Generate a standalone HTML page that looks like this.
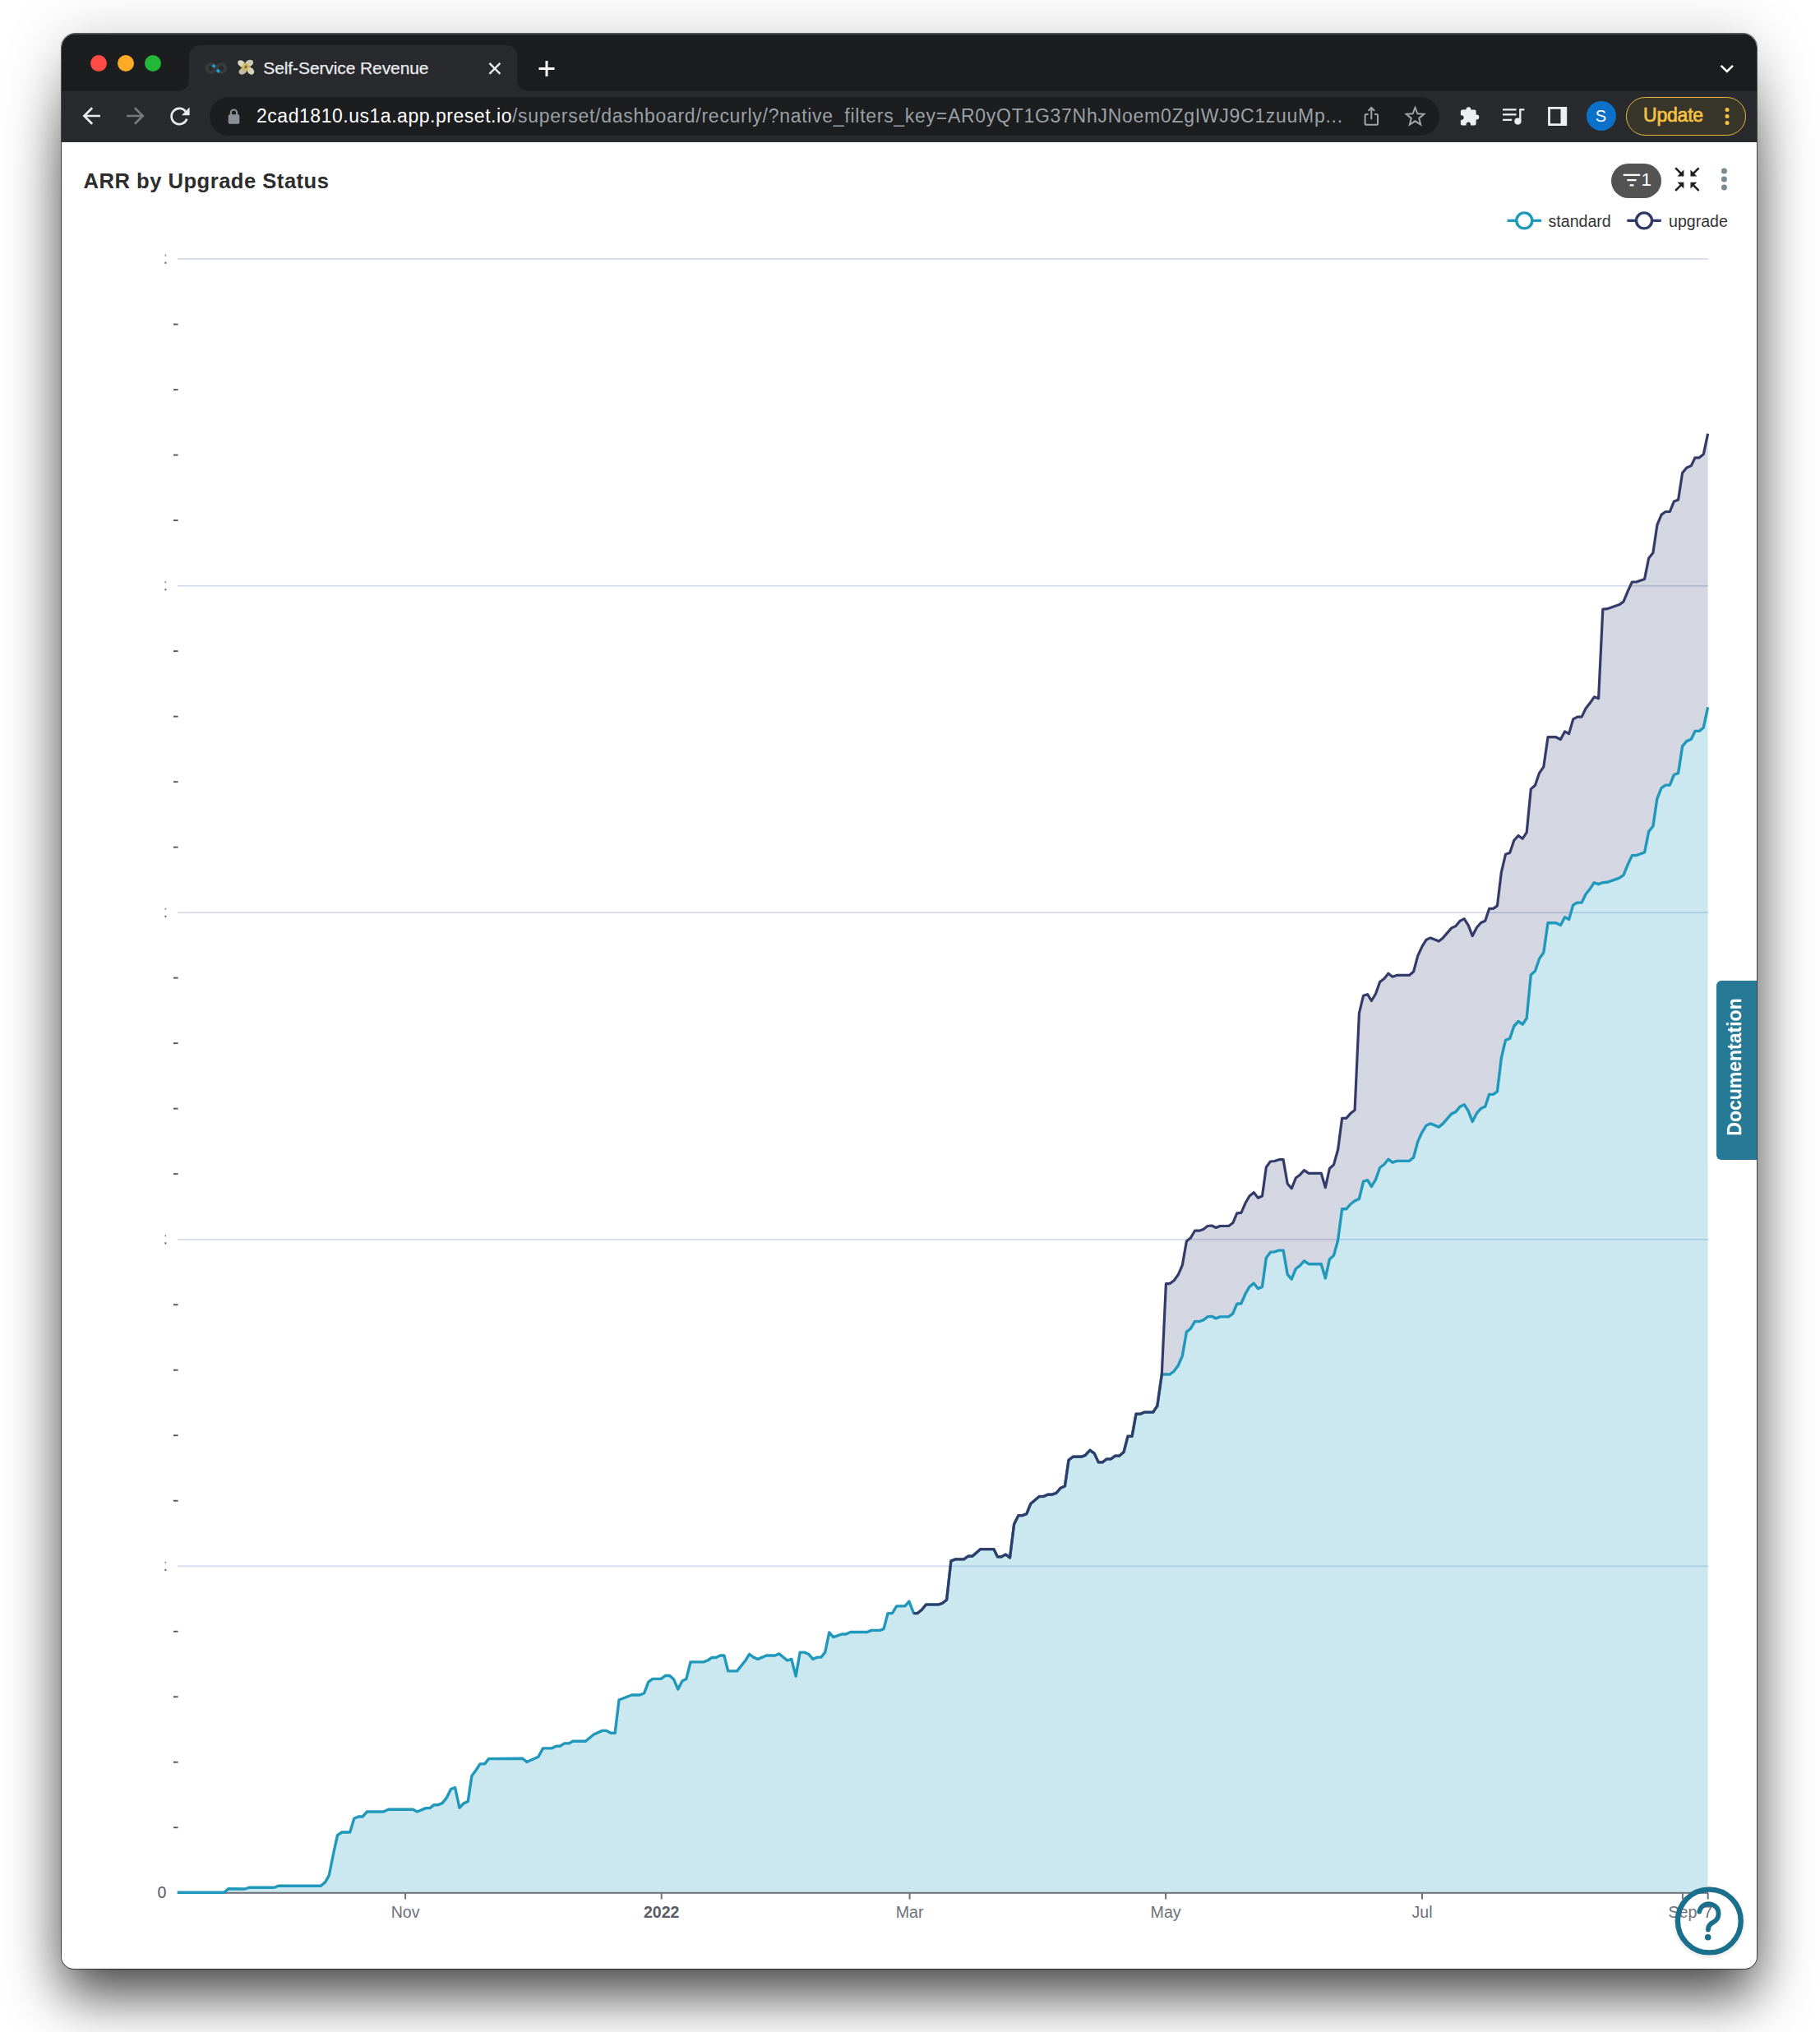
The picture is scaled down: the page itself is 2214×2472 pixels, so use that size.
<!DOCTYPE html>
<html lang="en"><head><meta charset="utf-8"><title>Self-Service Revenue</title>
<style>
*{box-sizing:border-box;margin:0;padding:0}
html,body{width:2214px;height:2472px;background:#fff;overflow:hidden;font-family:"Liberation Sans",Arial,sans-serif}
.win{position:absolute;left:75px;top:41px;width:2062px;height:2354px;border-radius:17px 17px 15px 15px;background:#fff;overflow:hidden;}
.shadow{position:absolute;left:75px;top:41px;width:2062px;height:2354px;border-radius:17px 17px 15px 15px;
 box-shadow:0 0 0 1px rgba(0,0,0,.62);}
.pg{position:absolute;left:-75px;top:-41px;width:2214px;height:2472px}
.abs{position:absolute}
.tabstrip{left:75px;top:41px;width:2062px;height:70px;background:#1c1d1f;box-shadow:inset 0 1px 0 #4a4c50}
.toolbar{left:75px;top:111px;width:2062px;height:61.5px;background:#292a2d}
.tab{left:229.5px;top:55px;width:399.5px;height:56px;background:#292a2d;border-radius:13px 13px 0 0}
.tab:before,.tab:after{content:"";position:absolute;bottom:0;width:13px;height:13px;background:radial-gradient(circle at 0 0,rgba(0,0,0,0) 12.5px,#292a2d 13px)}
.tab:before{left:-13px}
.tab:after{right:-13px;background:radial-gradient(circle at 100% 0,rgba(0,0,0,0) 12.5px,#292a2d 13px)}
.tl{width:20px;height:20px;border-radius:50%;top:67.3px}
.tabtitle{left:320.3px;top:68.8px;font-size:21px;line-height:28px;color:#e8eaed;white-space:nowrap;letter-spacing:-.1px;-webkit-text-stroke:.25px #e8eaed}
.omni{left:254.5px;top:118px;width:1496px;height:46.5px;border-radius:23.25px;background:#1c1d1f}
.url{left:312px;top:126px;font-size:23px;line-height:30px;color:#fff;white-space:nowrap;letter-spacing:.53px}
.url span{color:#9aa0a6;letter-spacing:.72px}
.avatar{left:1929.5px;top:123px;width:36px;height:36px;border-radius:50%;background:#0b71c9;color:#fff;font-size:20px;line-height:36px;text-align:center}
.update{left:1978px;top:118px;width:146px;height:46.5px;border-radius:23.25px;border:1.6px solid #eab93a;background:#38352b;color:#f6c343;font-size:23px;line-height:43.5px;font-weight:400;-webkit-text-stroke:.7px #f6c343;padding-left:20px;letter-spacing:-.2px}
.title{left:101.5px;top:202px;font-size:25.6px;line-height:36px;font-weight:700;color:#2d2d2d;white-space:nowrap;letter-spacing:.49px}
.badge{left:1960.3px;top:199.2px;width:60.5px;height:42px;border-radius:21px;background:#535353}
.leg{font-size:19.6px;line-height:24px;color:#333;top:257px;white-space:nowrap}
.doc{left:2087.5px;top:1192.5px;width:50px;height:218px;background:#267a96;border-radius:6px 0 0 6px}
.doc div{position:absolute;left:50%;top:50%;transform:translate(-50%,-50%) translateY(-4px) rotate(-90deg);color:#fff;font-weight:700;font-size:23px;white-space:nowrap;line-height:26px;margin-left:-3px}
.chart{position:absolute;left:0;top:0}
</style></head><body>
<svg class="abs" style="left:0;top:0" width="2214" height="2472" viewBox="0 0 2214 2472">
<defs>
<filter id="b1" filterUnits="userSpaceOnUse" x="-300" y="-300" width="2814" height="3200"><feGaussianBlur stdDeviation="33 58"/></filter>
<filter id="b2" filterUnits="userSpaceOnUse" x="-300" y="200" width="2814" height="2700"><feGaussianBlur stdDeviation="33 35"/></filter>
<clipPath id="c1"><rect x="0" y="0" width="2214" height="1200"/></clipPath>
<clipPath id="c2"><rect x="0" y="1200" width="2214" height="1272"/></clipPath>
</defs>
<g clip-path="url(#c1)"><rect x="75" y="106" width="2062" height="1894" rx="17" fill="#000" fill-opacity=".76" filter="url(#b1)"/></g>
<g clip-path="url(#c2)"><rect x="75" y="500" width="2062" height="1925" rx="17" fill="#000" fill-opacity=".76" filter="url(#b2)"/></g>
</svg>
<div class="shadow"></div>
<div class="win"><div class="pg">
<div class="abs tabstrip"></div>
<div class="abs toolbar"></div>
<div class="abs tab"></div>
<div class="abs tl" style="left:109.5px;background:#fe4b45"></div>
<div class="abs tl" style="left:142.9px;background:#fdab27"></div>
<div class="abs tl" style="left:176.2px;background:#21b737"></div>
<svg class="abs" style="left:0;top:0" width="2214" height="2472" viewBox="0 0 2214 2472" >
<g fill="none" stroke="#3a3a3b" stroke-width="4">
<path d="M262.85,83.1 C260.5,79 258.8,78.1 256.5,78.1 a5,5 0 1 0 0,10 C258.8,88.2 260.5,87.2 262.85,83.1 C265.2,79 266.9,78.1 269.2,78.1 a5,5 0 1 1 0,10 C266.9,88.2 265.2,87.2 262.85,83.1Z"/>
</g>
<rect x="-1.9" y="-1.9" width="3.8" height="3.8" fill="#1b9fd8" transform="translate(260.1,80.4) rotate(42)"/>
<rect x="-1.9" y="-1.9" width="3.8" height="3.8" fill="#1b9fd8" transform="translate(265.4,86.3) rotate(42)"/>
<g transform="translate(299.3,81.9) scale(0.9) translate(-299.3,-81.9)">
<ellipse cx="293.2" cy="77" rx="5.6" ry="4.1" fill="#d9d6c2" transform="rotate(35 293.2 77)"/>
<ellipse cx="303.6" cy="76.4" rx="5.8" ry="4.2" fill="#cfcfba" transform="rotate(-25 303.6 76.4)"/>
<ellipse cx="295" cy="87" rx="5.8" ry="4.2" fill="#bdbda2" transform="rotate(-30 295 87)"/>
<ellipse cx="305.6" cy="86.8" rx="5.4" ry="4.2" fill="#d6d3bd" transform="rotate(50 305.6 86.8)"/>
<ellipse cx="304.6" cy="75.6" rx="2" ry="1.3" fill="#a9c9b0" transform="rotate(-25 304.6 75.6)"/>
<g transform="translate(299,81.4) rotate(32)">
<rect x="-5" y="-3.4" width="10" height="6.8" fill="#c9bf86"/>
<rect x="-5.4" y="-4" width="10.8" height="1.5" fill="#dba622"/>
<rect x="-5.4" y="2.5" width="10.8" height="1.5" fill="#dba622"/>
<rect x="-1.7" y="-1.7" width="3.4" height="3.4" fill="#7d6c2a"/>
</g></g>
<g stroke="#e8eaed" stroke-width="2.4" stroke-linecap="butt" fill="none">
<path d="M595.4,76.9 L608.4,89.9 M608.4,76.9 L595.4,89.9"/>
</g>
<g stroke="#ffffff" stroke-width="3" fill="none"><path d="M655.5,83.4 H674.5 M665,73.9 V92.9"/></g>
<path d="M2093.6,79.8 L2100.8,87 L2108,79.8" stroke="#fff" stroke-width="2.5" fill="none"/>
</svg>
<div class="abs tabtitle">Self-Service Revenue</div>
<div class="abs omni"></div>
<div class="abs url">2cad1810.us1a.app.preset.io<span>/superset/dashboard/recurly/?native_filters_key=AR0yQT1G37NhJNoem0ZgIWJ9C1zuuMp...</span></div>
<div class="abs avatar">S</div>
<div class="abs update">Update</div>
<svg class="abs" style="left:0;top:0" width="2214" height="2472" viewBox="0 0 2214 2472" >
<g fill="none" stroke="#e8eaed" stroke-width="2.7" stroke-linejoin="miter">
<path d="M122,141 H102.4 M112.2,131.2 L102.4,141 L112.2,150.8"/>
</g>
<g fill="none" stroke="#77787b" stroke-width="2.7">
<path d="M154.1,141 H173.6 M163.9,131.2 L173.7,141 L163.9,150.8"/>
</g>
<g fill="none" stroke="#e8eaed" stroke-width="2.7">
<path d="M226.2,136.2 A9.6,9.6 0 1 0 227.3,144.6"/>
</g>
<path d="M230.6,130.6 V140.2 H220.9 Z" fill="#e8eaed"/>
<g>
<rect x="277.7" y="139.3" width="13.6" height="11.4" rx="1.6" fill="#8b9098"/>
<path d="M280.9,140 V137.1 a3.6,3.6 0 0 1 7.2,0 V140" fill="none" stroke="#8b9098" stroke-width="2.2"/>
</g>
<g fill="none" stroke="#a1a4a8" stroke-width="2">
<path d="M1664.6,138.9 H1662.2 a1.6,1.6 0 0 0 -1.6,1.6 V150.2 a1.6,1.6 0 0 0 1.6,1.6 H1674.4 a1.6,1.6 0 0 0 1.6,-1.6 V140.5 a1.6,1.6 0 0 0 -1.6,-1.6 H1672"/>
<path d="M1668.3,145.2 V131.4 M1664.4,134.9 L1668.3,131 L1672.2,134.9"/>
<path d="M1721.5,130.9 L1724.4,138.3 L1732.3,138.8 L1726.2,143.9 L1728.2,151.6 L1721.5,147.3 L1714.8,151.6 L1716.8,143.9 L1710.7,138.8 L1718.6,138.3 Z" stroke-linejoin="miter"/>
</g>
<path fill="#eceff1" d="M1783.6,133.2 a2.9,2.9 0 0 1 5.8,-0.3 V133.4 H1793.6 a2,2 0 0 1 2,2 V139.6 H1796.3 a3,3 0 0 1 0,6 H1795.6 V150.4 a2,2 0 0 1 -2,2 H1789 V151.3 a2.7,2.7 0 0 0 -5.4,0 V152.4 H1778.9 a2,2 0 0 1 -2,-2 V145.9 H1777.8 a2.8,2.8 0 0 0 0,-5.6 H1776.9 V135.4 a2,2 0 0 1 2,-2 Z"/>
<g fill="none" stroke="#eceff1" stroke-width="2.3">
<path d="M1828,133.3 H1844.6 M1828,139.4 H1844.6 M1828,145.8 H1839.2"/>
<path d="M1849.3,147.4 V133.3 H1854.4"/>
</g>
<circle cx="1846.4" cy="147.6" r="4.1" fill="#eceff1"/>
<path fill="#eceff1" fill-rule="evenodd" d="M1883.1,129.9 H1906.2 V153 H1883.1 Z M1885.9,132.7 V150.2 H1898.5 V132.7 Z"/>
<circle cx="2101" cy="133.5" r="2.5" fill="#f6c343"/><circle cx="2101" cy="141.6" r="2.5" fill="#f6c343"/><circle cx="2101" cy="149.6" r="2.5" fill="#f6c343"/>
</svg>
<div class="abs title">ARR by Upgrade Status</div>
<div class="abs badge"></div>
<svg class="abs" style="left:0;top:0" width="2214" height="2472" viewBox="0 0 2214 2472" >
<g stroke="#fff" stroke-width="2.2" fill="none"><path d="M1974.7,212.8 H1995.2 M1979.4,219.2 H1990.5 M1982.6,225.4 H1987.4"/></g>
<text x="1996.6" y="225.9" font-family="Liberation Sans, Arial, sans-serif" font-size="22.5" fill="#fff">1</text>
<g stroke="#1e1e1e" stroke-width="2.6" fill="none">
<path d="M2038.2,204.3 L2046,212.1 M2066.6,204.3 L2058.8,212.1 M2038.2,231.9 L2046,224.1 M2066.6,231.9 L2058.8,224.1"/>
</g>
<g fill="#1e1e1e">
<path d="M2048.3,214.4 V206.6 L2040.5,214.4 Z"/>
<path d="M2056.5,214.4 V206.6 L2064.3,214.4 Z"/>
<path d="M2048.3,221.8 V229.6 L2040.5,221.8 Z"/>
<path d="M2056.5,221.8 V229.6 L2064.3,221.8 Z"/>
</g>
<circle cx="2097.4" cy="208" r="3.5" fill="#7a8a93"/><circle cx="2097.4" cy="218.1" r="3.5" fill="#7a8a93"/><circle cx="2097.4" cy="228.1" r="3.5" fill="#7a8a93"/>
<g stroke-width="3.4">
<path d="M1833.6,268.4 H1875.1" stroke="#1f98bb"/><circle cx="1854.3" cy="268.4" r="9.5" fill="#fff" stroke="#1f98bb"/>
<path d="M1979.3,268.4 H2020.8" stroke="#303a66"/><circle cx="2000" cy="268.4" r="9.5" fill="#fff" stroke="#303a66"/>
</g>
</svg>
<div class="abs leg" style="left:1883.5px">standard</div>
<div class="abs leg" style="left:2030px">upgrade</div>
<svg class="chart" width="2214" height="2472" viewBox="0 0 2214 2472" font-family="Liberation Sans, Arial, sans-serif">
<rect x="216" y="314.2" width="1862" height="1.7" fill="#d5daed"/><rect x="216" y="711.9" width="1862" height="1.7" fill="#d5daed"/><rect x="216" y="1109.4" width="1862" height="1.7" fill="#d5daed"/><rect x="216" y="1507.0" width="1862" height="1.7" fill="#d5daed"/><rect x="216" y="1904.5" width="1862" height="1.7" fill="#d5daed"/>
<rect x="211" y="2222.3" width="5.5" height="1.9" fill="#51545f"/><rect x="211" y="2142.8" width="5.5" height="1.9" fill="#51545f"/><rect x="211" y="2063.3" width="5.5" height="1.9" fill="#51545f"/><rect x="211" y="1983.8" width="5.5" height="1.9" fill="#51545f"/><rect x="211" y="1824.8" width="5.5" height="1.9" fill="#51545f"/><rect x="211" y="1745.3" width="5.5" height="1.9" fill="#51545f"/><rect x="211" y="1665.8" width="5.5" height="1.9" fill="#51545f"/><rect x="211" y="1586.3" width="5.5" height="1.9" fill="#51545f"/><rect x="211" y="1427.2" width="5.5" height="1.9" fill="#51545f"/><rect x="211" y="1347.7" width="5.5" height="1.9" fill="#51545f"/><rect x="211" y="1268.2" width="5.5" height="1.9" fill="#51545f"/><rect x="211" y="1188.7" width="5.5" height="1.9" fill="#51545f"/><rect x="211" y="1029.7" width="5.5" height="1.9" fill="#51545f"/><rect x="211" y="950.2" width="5.5" height="1.9" fill="#51545f"/><rect x="211" y="870.7" width="5.5" height="1.9" fill="#51545f"/><rect x="211" y="791.2" width="5.5" height="1.9" fill="#51545f"/><rect x="211" y="632.1" width="5.5" height="1.9" fill="#51545f"/><rect x="211" y="552.6" width="5.5" height="1.9" fill="#51545f"/><rect x="211" y="473.1" width="5.5" height="1.9" fill="#51545f"/><rect x="211" y="393.6" width="5.5" height="1.9" fill="#51545f"/><rect x="200.5" y="309.6" width="1.6" height="2" fill="#8a8d96"/><rect x="200.5" y="318.6" width="1.8" height="2.2" fill="#55585f"/><rect x="200.5" y="707.2" width="1.6" height="2" fill="#8a8d96"/><rect x="200.5" y="716.2" width="1.8" height="2.2" fill="#55585f"/><rect x="200.5" y="1104.7" width="1.6" height="2" fill="#8a8d96"/><rect x="200.5" y="1113.7" width="1.8" height="2.2" fill="#55585f"/><rect x="200.5" y="1502.3" width="1.6" height="2" fill="#8a8d96"/><rect x="200.5" y="1511.3" width="1.8" height="2.2" fill="#55585f"/><rect x="200.5" y="1899.8" width="1.6" height="2" fill="#8a8d96"/><rect x="200.5" y="1908.8" width="1.8" height="2.2" fill="#55585f"/>
<path d="M215.7,2302.3 L272.7,2302.3 L277.8,2297.7 L298.0,2298.0 L303.0,2296.3 L333.4,2296.3 L338.5,2294.2 L390.4,2294.2 L395.7,2289.6 L400.3,2281.5 L405.4,2256.0 L410.5,2232.6 L415.8,2229.0 L425.7,2229.0 L430.8,2212.3 L435.9,2210.0 L441.0,2210.0 L446.5,2204.0 L466.6,2204.0 L472.3,2201.2 L502.3,2201.2 L507.6,2204.0 L518.0,2199.6 L523.0,2199.6 L527.7,2195.7 L533.0,2195.7 L538.3,2193.4 L543.4,2186.9 L548.5,2176.5 L553.6,2174.7 L558.9,2199.2 L564.0,2193.9 L569.3,2191.5 L573.9,2160.4 L579.0,2153.5 L584.0,2145.9 L589.6,2145.9 L594.6,2139.6 L635.8,2139.3 L640.8,2143.5 L654.9,2137.2 L660.5,2126.9 L671.1,2126.9 L676.6,2124.3 L681.2,2124.3 L686.5,2120.9 L691.9,2120.9 L696.9,2118.3 L712.4,2118.3 L722.3,2110.0 L732.7,2105.4 L737.8,2105.4 L743.1,2108.2 L748.2,2108.2 L753.0,2068.0 L768.5,2062.0 L778.4,2062.0 L783.7,2059.7 L788.8,2046.1 L793.9,2042.4 L804.2,2042.4 L809.3,2038.5 L814.6,2038.5 L819.7,2043.1 L824.8,2055.1 L829.9,2044.9 L834.9,2042.4 L840.0,2021.9 L855.7,2021.9 L860.8,2020.0 L865.9,2016.5 L870.9,2016.5 L876.0,2014.0 L880.9,2014.0 L885.7,2032.9 L896.6,2032.9 L906.5,2020.5 L911.6,2012.4 L916.6,2016.1 L921.9,2018.4 L932.3,2014.0 L942.7,2014.0 L947.8,2011.9 L957.7,2020.0 L962.8,2018.4 L968.1,2039.2 L973.2,2010.1 L978.5,2010.1 L983.6,2012.2 L988.9,2018.4 L994.2,2016.1 L998.8,2016.1 L1003.7,2010.1 L1008.7,1986.0 L1013.8,1991.6 L1024.2,1988.0 L1029.3,1988.0 L1034.6,1985.5 L1054.9,1985.5 L1060.0,1983.4 L1070.4,1983.4 L1075.0,1981.6 L1080.1,1962.6 L1085.4,1962.6 L1090.7,1953.9 L1100.9,1953.9 L1105.9,1948.1 L1111.5,1962.6 L1116.1,1962.6 L1121.2,1958.5 L1126.5,1952.0 L1141.9,1952.0 L1146.6,1950.2 L1151.6,1946.3 L1156.9,1898.9 L1162.2,1896.9 L1172.6,1896.9 L1177.7,1893.2 L1182.8,1893.2 L1192.7,1884.6 L1208.9,1884.6 L1213.5,1893.9 L1218.1,1893.9 L1223.4,1891.1 L1228.5,1895.0 L1233.6,1854.2 L1238.9,1843.6 L1243.9,1843.6 L1248.8,1841.7 L1253.9,1829.2 L1264.3,1820.5 L1269.3,1820.5 L1274.6,1818.2 L1279.7,1818.2 L1285.0,1816.3 L1290.1,1810.3 L1295.4,1808.0 L1300.0,1776.2 L1305.3,1772.2 L1315.5,1772.2 L1320.3,1770.4 L1325.9,1764.2 L1331.2,1768.1 L1336.3,1778.9 L1341.1,1778.9 L1346.2,1775.0 L1351.3,1775.0 L1356.6,1771.1 L1361.6,1771.1 L1367.0,1766.5 L1372.0,1747.3 L1377.1,1747.3 L1382.0,1720.1 L1387.3,1720.1 L1392.3,1718.0 L1402.7,1718.0 L1407.8,1710.4 L1413.3,1672.0 L1418.4,1672.0 L1423.1,1672.0 L1428.2,1668.1 L1433.2,1661.2 L1438.3,1649.6 L1443.4,1620.3 L1448.5,1616.2 L1453.5,1607.6 L1458.9,1607.6 L1463.9,1605.8 L1469.0,1601.9 L1474.1,1601.4 L1479.2,1603.9 L1484.2,1601.9 L1494.6,1601.9 L1499.7,1598.2 L1504.8,1586.2 L1509.9,1585.7 L1514.9,1574.2 L1520.0,1565.4 L1525.3,1561.2 L1530.4,1567.7 L1535.5,1565.4 L1540.3,1530.3 L1545.4,1523.4 L1550.5,1522.9 L1555.8,1521.1 L1561.1,1521.1 L1566.2,1550.4 L1571.2,1556.2 L1576.3,1543.5 L1581.4,1539.6 L1586.5,1534.0 L1592.0,1537.7 L1607.2,1537.7 L1612.3,1555.0 L1617.4,1531.9 L1622.5,1527.3 L1627.6,1508.9 L1632.6,1470.8 L1637.7,1470.8 L1642.8,1465.0 L1648.1,1460.9 L1653.4,1458.5 L1658.5,1437.3 L1663.6,1435.7 L1668.4,1443.5 L1673.5,1435.0 L1678.6,1420.5 L1683.9,1416.5 L1688.9,1410.3 L1694.0,1414.2 L1699.1,1412.4 L1714.3,1412.4 L1719.6,1408.0 L1724.7,1388.9 L1730.0,1377.3 L1735.1,1369.2 L1740.2,1366.9 L1750.3,1371.1 L1755.4,1366.9 L1765.8,1354.9 L1770.9,1352.6 L1776.2,1346.2 L1781.3,1343.8 L1786.3,1351.9 L1791.2,1364.6 L1796.5,1354.2 L1801.6,1348.5 L1806.7,1346.2 L1811.6,1331.4 L1816.5,1331.4 L1821.4,1327.9 L1826.4,1286.8 L1831.5,1265.3 L1836.7,1263.4 L1841.7,1248.5 L1847.0,1242.5 L1852.2,1246.2 L1857.2,1238.7 L1862.3,1185.9 L1867.5,1181.2 L1872.6,1166.3 L1877.8,1158.8 L1883.0,1122.7 L1892.7,1122.7 L1898.4,1125.5 L1903.6,1115.8 L1908.6,1118.6 L1913.7,1100.9 L1918.9,1098.1 L1924.1,1098.1 L1929.1,1087.8 L1934.0,1081.6 L1939.3,1073.8 L1944.6,1075.7 L1949.8,1073.7 L1955.0,1073.3 L1969.9,1068.2 L1975.1,1064.3 L1980.2,1051.7 L1985.4,1040.6 L1990.4,1040.6 L2000.6,1037.0 L2005.7,1011.5 L2010.9,1005.2 L2015.9,971.3 L2021.1,958.7 L2026.1,955.1 L2031.3,955.1 L2036.4,942.5 L2041.6,940.6 L2046.6,907.9 L2051.8,901.6 L2057.3,899.2 L2062.0,889.4 L2067.1,889.4 L2072.3,885.2 L2077.6,860.3 L2077.6,2302.8 L215.7,2302.8 Z" fill="rgb(31,155,194)" fill-opacity="0.23"/>
<path d="M1413.3,1672.0 L1418.4,1561.6 L1423.1,1561.6 L1428.2,1557.7 L1433.2,1550.8 L1438.3,1539.2 L1443.4,1509.9 L1448.5,1505.8 L1453.5,1497.2 L1458.9,1497.2 L1463.9,1495.4 L1469.0,1491.5 L1474.1,1491.0 L1479.2,1493.5 L1484.2,1491.5 L1494.6,1491.5 L1499.7,1487.8 L1504.8,1475.8 L1509.9,1475.3 L1514.9,1463.8 L1520.0,1455.0 L1525.3,1450.8 L1530.4,1457.3 L1535.5,1455.0 L1540.3,1419.9 L1545.4,1413.0 L1550.5,1412.5 L1555.8,1410.7 L1561.1,1410.7 L1566.2,1440.0 L1571.2,1445.8 L1576.3,1433.1 L1581.4,1429.2 L1586.5,1423.6 L1592.0,1427.3 L1607.2,1427.3 L1612.3,1444.6 L1617.4,1421.5 L1622.5,1416.9 L1627.6,1398.5 L1632.6,1360.4 L1637.7,1360.4 L1642.8,1354.6 L1648.1,1350.5 L1653.4,1232.5 L1658.5,1211.3 L1663.6,1209.7 L1668.4,1217.5 L1673.5,1209.0 L1678.6,1194.5 L1683.9,1190.5 L1688.9,1184.3 L1694.0,1188.2 L1699.1,1186.4 L1714.3,1186.4 L1719.6,1182.0 L1724.7,1162.9 L1730.0,1151.3 L1735.1,1143.2 L1740.2,1140.9 L1750.3,1145.1 L1755.4,1140.9 L1765.8,1128.9 L1770.9,1126.6 L1776.2,1120.2 L1781.3,1117.8 L1786.3,1125.9 L1791.2,1138.6 L1796.5,1128.2 L1801.6,1122.5 L1806.7,1120.2 L1811.6,1105.4 L1816.5,1105.4 L1821.4,1101.9 L1826.4,1060.8 L1831.5,1039.3 L1836.7,1037.4 L1841.7,1022.5 L1847.0,1016.5 L1852.2,1020.2 L1857.2,1012.7 L1862.3,959.9 L1867.5,955.2 L1872.6,940.3 L1877.8,932.8 L1883.0,896.7 L1892.7,896.7 L1898.4,899.5 L1903.6,889.8 L1908.6,892.6 L1913.7,874.9 L1918.9,872.1 L1924.1,872.1 L1929.1,861.8 L1934.0,855.6 L1939.3,847.8 L1944.6,849.7 L1949.8,741.1 L1955.0,740.7 L1969.9,735.6 L1975.1,731.7 L1980.2,719.1 L1985.4,708.0 L1990.4,708.0 L2000.6,704.4 L2005.7,678.9 L2010.9,672.6 L2015.9,638.7 L2021.1,626.1 L2026.1,622.5 L2031.3,622.5 L2036.4,609.9 L2041.6,608.0 L2046.6,575.3 L2051.8,569.0 L2057.3,566.6 L2062.0,556.8 L2067.1,556.8 L2072.3,552.6 L2077.6,527.7 L2077.6,860.3 L2072.3,885.2 L2067.1,889.4 L2062.0,889.4 L2057.3,899.2 L2051.8,901.6 L2046.6,907.9 L2041.6,940.6 L2036.4,942.5 L2031.3,955.1 L2026.1,955.1 L2021.1,958.7 L2015.9,971.3 L2010.9,1005.2 L2005.7,1011.5 L2000.6,1037.0 L1990.4,1040.6 L1985.4,1040.6 L1980.2,1051.7 L1975.1,1064.3 L1969.9,1068.2 L1955.0,1073.3 L1949.8,1073.7 L1944.6,1075.7 L1939.3,1073.8 L1934.0,1081.6 L1929.1,1087.8 L1924.1,1098.1 L1918.9,1098.1 L1913.7,1100.9 L1908.6,1118.6 L1903.6,1115.8 L1898.4,1125.5 L1892.7,1122.7 L1883.0,1122.7 L1877.8,1158.8 L1872.6,1166.3 L1867.5,1181.2 L1862.3,1185.9 L1857.2,1238.7 L1852.2,1246.2 L1847.0,1242.5 L1841.7,1248.5 L1836.7,1263.4 L1831.5,1265.3 L1826.4,1286.8 L1821.4,1327.9 L1816.5,1331.4 L1811.6,1331.4 L1806.7,1346.2 L1801.6,1348.5 L1796.5,1354.2 L1791.2,1364.6 L1786.3,1351.9 L1781.3,1343.8 L1776.2,1346.2 L1770.9,1352.6 L1765.8,1354.9 L1755.4,1366.9 L1750.3,1371.1 L1740.2,1366.9 L1735.1,1369.2 L1730.0,1377.3 L1724.7,1388.9 L1719.6,1408.0 L1714.3,1412.4 L1699.1,1412.4 L1694.0,1414.2 L1688.9,1410.3 L1683.9,1416.5 L1678.6,1420.5 L1673.5,1435.0 L1668.4,1443.5 L1663.6,1435.7 L1658.5,1437.3 L1653.4,1458.5 L1648.1,1460.9 L1642.8,1465.0 L1637.7,1470.8 L1632.6,1470.8 L1627.6,1508.9 L1622.5,1527.3 L1617.4,1531.9 L1612.3,1555.0 L1607.2,1537.7 L1592.0,1537.7 L1586.5,1534.0 L1581.4,1539.6 L1576.3,1543.5 L1571.2,1556.2 L1566.2,1550.4 L1561.1,1521.1 L1555.8,1521.1 L1550.5,1522.9 L1545.4,1523.4 L1540.3,1530.3 L1535.5,1565.4 L1530.4,1567.7 L1525.3,1561.2 L1520.0,1565.4 L1514.9,1574.2 L1509.9,1585.7 L1504.8,1586.2 L1499.7,1598.2 L1494.6,1601.9 L1484.2,1601.9 L1479.2,1603.9 L1474.1,1601.4 L1469.0,1601.9 L1463.9,1605.8 L1458.9,1607.6 L1453.5,1607.6 L1448.5,1616.2 L1443.4,1620.3 L1438.3,1649.6 L1433.2,1661.2 L1428.2,1668.1 L1423.1,1672.0 L1418.4,1672.0 L1413.3,1672.0 Z" fill="rgb(40,50,105)" fill-opacity="0.2"/>
<rect x="216" y="2301.8" width="1862" height="2" fill="#6e7079"/>
<g fill="none" stroke-linejoin="round" stroke-linecap="butt">
<polyline points="215.7,2302.3 272.7,2302.3 277.8,2297.7 298.0,2298.0 303.0,2296.3 333.4,2296.3 338.5,2294.2 390.4,2294.2 395.7,2289.6 400.3,2281.5 405.4,2256.0 410.5,2232.6 415.8,2229.0 425.7,2229.0 430.8,2212.3 435.9,2210.0 441.0,2210.0 446.5,2204.0 466.6,2204.0 472.3,2201.2 502.3,2201.2 507.6,2204.0 518.0,2199.6 523.0,2199.6 527.7,2195.7 533.0,2195.7 538.3,2193.4 543.4,2186.9 548.5,2176.5 553.6,2174.7 558.9,2199.2 564.0,2193.9 569.3,2191.5 573.9,2160.4 579.0,2153.5 584.0,2145.9 589.6,2145.9 594.6,2139.6 635.8,2139.3 640.8,2143.5 654.9,2137.2 660.5,2126.9 671.1,2126.9 676.6,2124.3 681.2,2124.3 686.5,2120.9 691.9,2120.9 696.9,2118.3 712.4,2118.3 722.3,2110.0 732.7,2105.4 737.8,2105.4 743.1,2108.2 748.2,2108.2 753.0,2068.0 768.5,2062.0 778.4,2062.0 783.7,2059.7 788.8,2046.1 793.9,2042.4 804.2,2042.4 809.3,2038.5 814.6,2038.5 819.7,2043.1 824.8,2055.1 829.9,2044.9 834.9,2042.4 840.0,2021.9 855.7,2021.9 860.8,2020.0 865.9,2016.5 870.9,2016.5 876.0,2014.0 880.9,2014.0 885.7,2032.9 896.6,2032.9 906.5,2020.5 911.6,2012.4 916.6,2016.1 921.9,2018.4 932.3,2014.0 942.7,2014.0 947.8,2011.9 957.7,2020.0 962.8,2018.4 968.1,2039.2 973.2,2010.1 978.5,2010.1 983.6,2012.2 988.9,2018.4 994.2,2016.1 998.8,2016.1 1003.7,2010.1 1008.7,1986.0 1013.8,1991.6 1024.2,1988.0 1029.3,1988.0 1034.6,1985.5 1054.9,1985.5 1060.0,1983.4 1070.4,1983.4 1075.0,1981.6 1080.1,1962.6 1085.4,1962.6 1090.7,1953.9 1100.9,1953.9 1105.9,1948.1 1111.5,1962.6 1116.1,1962.6 1121.2,1958.5 1126.5,1952.0 1141.9,1952.0 1146.6,1950.2 1151.6,1946.3 1156.9,1898.9 1162.2,1896.9 1172.6,1896.9 1177.7,1893.2 1182.8,1893.2 1192.7,1884.6 1208.9,1884.6 1213.5,1893.9 1218.1,1893.9 1223.4,1891.1 1228.5,1895.0 1233.6,1854.2 1238.9,1843.6 1243.9,1843.6 1248.8,1841.7 1253.9,1829.2 1264.3,1820.5 1269.3,1820.5 1274.6,1818.2 1279.7,1818.2 1285.0,1816.3 1290.1,1810.3 1295.4,1808.0 1300.0,1776.2 1305.3,1772.2 1315.5,1772.2 1320.3,1770.4 1325.9,1764.2 1331.2,1768.1 1336.3,1778.9 1341.1,1778.9 1346.2,1775.0 1351.3,1775.0 1356.6,1771.1 1361.6,1771.1 1367.0,1766.5 1372.0,1747.3 1377.1,1747.3 1382.0,1720.1 1387.3,1720.1 1392.3,1718.0 1402.7,1718.0 1407.8,1710.4 1413.3,1672.0 1418.4,1672.0 1423.1,1672.0 1428.2,1668.1 1433.2,1661.2 1438.3,1649.6 1443.4,1620.3 1448.5,1616.2 1453.5,1607.6 1458.9,1607.6 1463.9,1605.8 1469.0,1601.9 1474.1,1601.4 1479.2,1603.9 1484.2,1601.9 1494.6,1601.9 1499.7,1598.2 1504.8,1586.2 1509.9,1585.7 1514.9,1574.2 1520.0,1565.4 1525.3,1561.2 1530.4,1567.7 1535.5,1565.4 1540.3,1530.3 1545.4,1523.4 1550.5,1522.9 1555.8,1521.1 1561.1,1521.1 1566.2,1550.4 1571.2,1556.2 1576.3,1543.5 1581.4,1539.6 1586.5,1534.0 1592.0,1537.7 1607.2,1537.7 1612.3,1555.0 1617.4,1531.9 1622.5,1527.3 1627.6,1508.9 1632.6,1470.8 1637.7,1470.8 1642.8,1465.0 1648.1,1460.9 1653.4,1458.5 1658.5,1437.3 1663.6,1435.7 1668.4,1443.5 1673.5,1435.0 1678.6,1420.5 1683.9,1416.5 1688.9,1410.3 1694.0,1414.2 1699.1,1412.4 1714.3,1412.4 1719.6,1408.0 1724.7,1388.9 1730.0,1377.3 1735.1,1369.2 1740.2,1366.9 1750.3,1371.1 1755.4,1366.9 1765.8,1354.9 1770.9,1352.6 1776.2,1346.2 1781.3,1343.8 1786.3,1351.9 1791.2,1364.6 1796.5,1354.2 1801.6,1348.5 1806.7,1346.2 1811.6,1331.4 1816.5,1331.4 1821.4,1327.9 1826.4,1286.8 1831.5,1265.3 1836.7,1263.4 1841.7,1248.5 1847.0,1242.5 1852.2,1246.2 1857.2,1238.7 1862.3,1185.9 1867.5,1181.2 1872.6,1166.3 1877.8,1158.8 1883.0,1122.7 1892.7,1122.7 1898.4,1125.5 1903.6,1115.8 1908.6,1118.6 1913.7,1100.9 1918.9,1098.1 1924.1,1098.1 1929.1,1087.8 1934.0,1081.6 1939.3,1073.8 1944.6,1075.7 1949.8,1073.7 1955.0,1073.3 1969.9,1068.2 1975.1,1064.3 1980.2,1051.7 1985.4,1040.6 1990.4,1040.6 2000.6,1037.0 2005.7,1011.5 2010.9,1005.2 2015.9,971.3 2021.1,958.7 2026.1,955.1 2031.3,955.1 2036.4,942.5 2041.6,940.6 2046.6,907.9 2051.8,901.6 2057.3,899.2 2062.0,889.4 2067.1,889.4 2072.3,885.2 2077.6,860.3" stroke="#1f98bb" stroke-width="3.4"/>
<polyline points="1111.5,1962.6 1116.1,1962.6 1121.2,1958.5 1126.5,1952.0 1141.9,1952.0 1146.6,1950.2 1151.6,1946.3 1156.9,1898.9 1162.2,1896.9 1172.6,1896.9 1177.7,1893.2 1182.8,1893.2 1192.7,1884.6 1208.9,1884.6 1213.5,1893.9 1218.1,1893.9 1223.4,1891.1 1228.5,1895.0 1233.6,1854.2 1238.9,1843.6 1243.9,1843.6 1248.8,1841.7 1253.9,1829.2 1264.3,1820.5 1269.3,1820.5 1274.6,1818.2 1279.7,1818.2 1285.0,1816.3 1290.1,1810.3 1295.4,1808.0 1300.0,1776.2 1305.3,1772.2 1315.5,1772.2 1320.3,1770.4 1325.9,1764.2 1331.2,1768.1 1336.3,1778.9 1341.1,1778.9 1346.2,1775.0 1351.3,1775.0 1356.6,1771.1 1361.6,1771.1 1367.0,1766.5 1372.0,1747.3 1377.1,1747.3 1382.0,1720.1 1387.3,1720.1 1392.3,1718.0 1402.7,1718.0 1407.8,1710.4 1413.3,1672.0 1418.4,1561.6 1423.1,1561.6 1428.2,1557.7 1433.2,1550.8 1438.3,1539.2 1443.4,1509.9 1448.5,1505.8 1453.5,1497.2 1458.9,1497.2 1463.9,1495.4 1469.0,1491.5 1474.1,1491.0 1479.2,1493.5 1484.2,1491.5 1494.6,1491.5 1499.7,1487.8 1504.8,1475.8 1509.9,1475.3 1514.9,1463.8 1520.0,1455.0 1525.3,1450.8 1530.4,1457.3 1535.5,1455.0 1540.3,1419.9 1545.4,1413.0 1550.5,1412.5 1555.8,1410.7 1561.1,1410.7 1566.2,1440.0 1571.2,1445.8 1576.3,1433.1 1581.4,1429.2 1586.5,1423.6 1592.0,1427.3 1607.2,1427.3 1612.3,1444.6 1617.4,1421.5 1622.5,1416.9 1627.6,1398.5 1632.6,1360.4 1637.7,1360.4 1642.8,1354.6 1648.1,1350.5 1653.4,1232.5 1658.5,1211.3 1663.6,1209.7 1668.4,1217.5 1673.5,1209.0 1678.6,1194.5 1683.9,1190.5 1688.9,1184.3 1694.0,1188.2 1699.1,1186.4 1714.3,1186.4 1719.6,1182.0 1724.7,1162.9 1730.0,1151.3 1735.1,1143.2 1740.2,1140.9 1750.3,1145.1 1755.4,1140.9 1765.8,1128.9 1770.9,1126.6 1776.2,1120.2 1781.3,1117.8 1786.3,1125.9 1791.2,1138.6 1796.5,1128.2 1801.6,1122.5 1806.7,1120.2 1811.6,1105.4 1816.5,1105.4 1821.4,1101.9 1826.4,1060.8 1831.5,1039.3 1836.7,1037.4 1841.7,1022.5 1847.0,1016.5 1852.2,1020.2 1857.2,1012.7 1862.3,959.9 1867.5,955.2 1872.6,940.3 1877.8,932.8 1883.0,896.7 1892.7,896.7 1898.4,899.5 1903.6,889.8 1908.6,892.6 1913.7,874.9 1918.9,872.1 1924.1,872.1 1929.1,861.8 1934.0,855.6 1939.3,847.8 1944.6,849.7 1949.8,741.1 1955.0,740.7 1969.9,735.6 1975.1,731.7 1980.2,719.1 1985.4,708.0 1990.4,708.0 2000.6,704.4 2005.7,678.9 2010.9,672.6 2015.9,638.7 2021.1,626.1 2026.1,622.5 2031.3,622.5 2036.4,609.9 2041.6,608.0 2046.6,575.3 2051.8,569.0 2057.3,566.6 2062.0,556.8 2067.1,556.8 2072.3,552.6 2077.6,527.7" stroke="#333c69" stroke-width="3.2"/>
</g>
<rect x="492.1" y="2303" width="2" height="7.5" fill="#6e7079"/><rect x="803.7" y="2303" width="2" height="7.5" fill="#6e7079"/><rect x="1105.6" y="2303" width="2" height="7.5" fill="#6e7079"/><rect x="1417.1" y="2303" width="2" height="7.5" fill="#6e7079"/><rect x="1729.0" y="2303" width="2" height="7.5" fill="#6e7079"/><rect x="2045.9" y="2303" width="2" height="7.5" fill="#6e7079"/><rect x="2076.7" y="2303" width="2" height="7.5" fill="#6e7079"/>
<text x="493.1" y="2332.6" text-anchor="middle" font-size="19.6" fill="#6e7079">Nov</text><text x="804.7" y="2332.6" text-anchor="middle" font-size="19.6" font-weight="700" fill="#5a5d66">2022</text><text x="1106.6" y="2332.6" text-anchor="middle" font-size="19.6" fill="#6e7079">Mar</text><text x="1418.1" y="2332.6" text-anchor="middle" font-size="19.6" fill="#6e7079">May</text><text x="1730.0" y="2332.6" text-anchor="middle" font-size="19.6" fill="#6e7079">Jul</text><text x="2046.9" y="2332.6" text-anchor="middle" font-size="19.6" fill="#6e7079">Sep</text><text x="2077.7" y="2332.6" text-anchor="middle" font-size="19.6" fill="#6e7079">7</text>
<text x="202.5" y="2309" text-anchor="end" font-size="19.6" fill="#55585f">0</text>
</svg>
<div class="abs doc"><div>Documentation</div></div>
<svg class="abs" style="left:0;top:0" width="2214" height="2472" viewBox="0 0 2214 2472" >
<circle cx="2079.3" cy="2338.5" r="41" fill="none" stroke="rgba(0,0,0,0.05)" stroke-width="6"/>
<circle cx="2079.3" cy="2337" r="38.4" fill="none" stroke="#1a6f8c" stroke-width="6.4"/>
<path d="M2067.2,2325.6 A11.8,11.8 0 1 1 2084.6,2338.2 Q2077.9,2341.6 2077.9,2347.6" fill="none" stroke="#1a6f8c" stroke-width="5.8" stroke-linecap="round"/>
<circle cx="2077.7" cy="2356.8" r="3.8" fill="#1a6f8c"/>
</svg>
</div></div>
</body></html>
